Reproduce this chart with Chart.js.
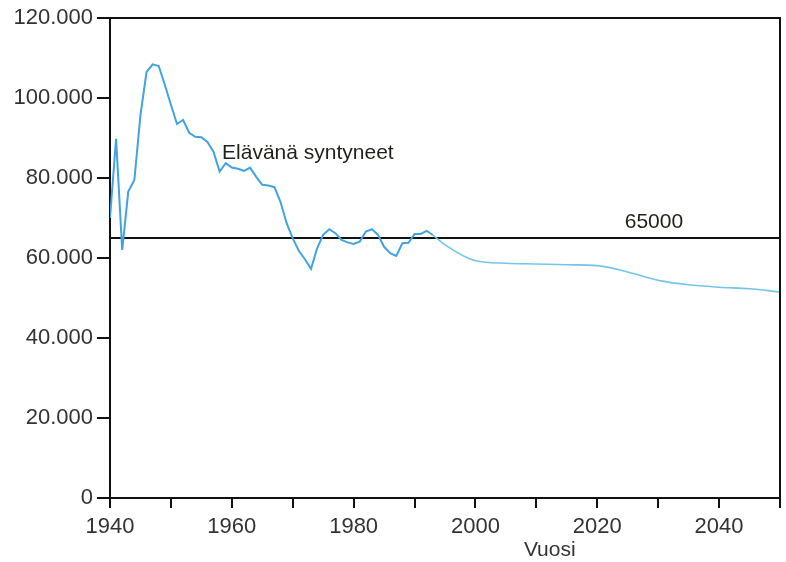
<!DOCTYPE html>
<html>
<head>
<meta charset="utf-8">
<script src="https://cdn.jsdelivr.net/npm/chart.js@4.4.1/dist/chart.umd.min.js"></script>
<style>
  body { margin: 0; background: #fff; }
  #wrap { width: 786px; height: 562px; }
</style>
</head>
<body>
<div id="wrap"><canvas id="birthsChart"></canvas></div>
<script>
// elävänä syntyneet vuosittain 1940-1993
const observedYears = [1940, 1941, 1942, 1943, 1944, 1945, 1946, 1947, 1948, 1949,
  1950, 1951, 1952, 1953, 1954, 1955, 1956, 1957, 1958, 1959,
  1960, 1961, 1962, 1963, 1964, 1965, 1966, 1967, 1968, 1969,
  1970, 1971, 1972, 1973, 1974, 1975, 1976, 1977, 1978, 1979,
  1980, 1981, 1982, 1983, 1984, 1985, 1986, 1987, 1988, 1989,
  1990, 1991, 1992, 1993];
const observedBirths = [70000, 89800, 62000, 76600, 79500, 95700, 106500, 108400, 108000, 103300,
  98300, 93500, 94500, 91300, 90300, 90200, 89000, 86500, 81600, 83700,
  82600, 82300, 81800, 82600, 80300, 78300, 78100, 77700, 74000, 68700,
  64900, 61800, 59700, 57300, 62400, 65800, 67200, 66200, 64500, 63900,
  63500, 64100, 66600, 67200, 65800, 62800, 61200, 60500, 63700, 63800,
  66000, 66000, 66800, 65750];

// ennuste
const projectionYears = [1993, 1995, 2000, 2005, 2010, 2015, 2020, 2025, 2030, 2035, 2040, 2045, 2050];
const projectionBirths = [65750, 63300, 59300, 58700, 58500, 58300, 58100, 56500, 54400, 53300, 52700, 52300, 51500];

const referenceLevel = 65000;
const referenceYears = [1940, 2050];

const xTickLabels = ["1940", "1960", "1980", "2000", "2020", "2040"];
const yTickLabels = ["0", "20.000", "40.000", "60.000", "80.000", "100.000", "120.000"];

const lineLabel = "Elävänä syntyneet";
const levelLabel = "65000";
const xTitle = "Vuosi";

function toPoints(xs, ys) {
  return xs.map(function (x, i) { return { x: x, y: ys[i] }; });
}

const frameAndLabels = {
  id: "frameAndLabels",
  afterDatasetsDraw(chart) {
    const ctx = chart.ctx;
    const a = chart.chartArea;
    const x = chart.scales.x;
    const y = chart.scales.y;
    ctx.save();
    ctx.strokeStyle = "#111";
    ctx.lineWidth = 2;
    ctx.beginPath();
    ctx.moveTo(a.left, a.top);
    ctx.lineTo(a.right, a.top);
    ctx.lineTo(a.right, a.bottom);
    ctx.stroke();

    ctx.fillStyle = "#1e2218";
    ctx.font = "21px 'Liberation Sans', Arial, sans-serif";
    ctx.textBaseline = "middle";
    ctx.textAlign = "left";
    ctx.fillText(lineLabel, x.getPixelForValue(1958.4), y.getPixelForValue(86300));
    ctx.textAlign = "center";
    ctx.fillText(levelLabel, x.getPixelForValue(2029.3), y.getPixelForValue(69000));

    // akselin otsikko hieman oikealla kuten alkuperäisessä
    ctx.fillStyle = "#333";
    ctx.font = "21px 'Liberation Sans Narrow', 'Liberation Sans', Arial, sans-serif";
    ctx.fillText(xTitle, x.getPixelForValue(2012.2), a.bottom + 52);
    ctx.restore();
  }
};

const tickFont = { family: "'Liberation Sans', Arial, sans-serif", size: 22 };

new Chart(document.getElementById("birthsChart"), {
  type: "line",
  data: {
    datasets: [
      {
        label: lineLabel,
        data: toPoints(observedYears, observedBirths),
        borderColor: "#42a3e3",
        borderWidth: 2,
        pointRadius: 0,
        tension: 0,
      },
      {
        label: "ennuste",
        data: toPoints(projectionYears, projectionBirths),
        borderColor: "#74c5eb",
        borderWidth: 1.6,
        pointRadius: 0,
        cubicInterpolationMode: "monotone",
      },
      {
        label: levelLabel,
        data: toPoints(referenceYears, [referenceLevel, referenceLevel]),
        borderColor: "#111",
        borderWidth: 2,
        pointRadius: 0,
      },
    ],
  },
  options: {
    responsive: true,
    maintainAspectRatio: false,
    animation: false,
    layout: {
      padding: { top: 18, right: 3, bottom: 0, left: 0 },
    },
    plugins: {
      legend: { display: false },
      tooltip: { enabled: false },
    },
    scales: {
      x: {
        type: "linear",
        min: 1940,
        max: 2050,
        afterFit(scale) { scale.height = 64; },
        border: { color: "#111", width: 2 },
        grid: { drawOnChartArea: false, color: "#111", lineWidth: 2, tickLength: 10 },
        ticks: {
          stepSize: 10,
          autoSkip: false,
          maxRotation: 0,
          padding: 6,
          color: "#333",
          font: tickFont,
          callback: function (value) {
            const s = String(value);
            return xTickLabels.indexOf(s) >= 0 ? s : "";
          },
        },
      },
      y: {
        min: 0,
        max: 120000,
        afterFit(scale) { scale.width = 110; },
        border: { color: "#111", width: 2 },
        grid: { drawOnChartArea: false, color: "#111", lineWidth: 2, tickLength: 13 },
        ticks: {
          stepSize: 20000,
          padding: 4,
          color: "#333",
          font: tickFont,
          callback: function (value, index) {
            return yTickLabels[index];
          },
        },
      },
    },
  },
  plugins: [frameAndLabels],
});
</script>
</body>
</html>
